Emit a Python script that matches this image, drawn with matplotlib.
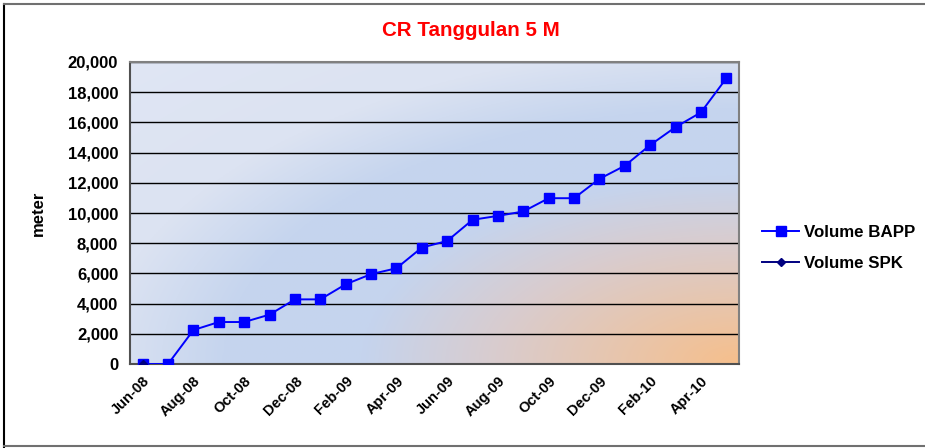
import numpy as np
import matplotlib
matplotlib.use("Agg")
import matplotlib.pyplot as plt
from matplotlib.lines import Line2D
from matplotlib.colors import to_rgb

# ---- data ----
months = ["Jun-08", "Jul-08", "Aug-08", "Sep-08", "Oct-08", "Nov-08", "Dec-08",
          "Jan-09", "Feb-09", "Mar-09", "Apr-09", "May-09", "Jun-09", "Jul-09",
          "Aug-09", "Sep-09", "Oct-09", "Nov-09", "Dec-09", "Jan-10", "Feb-10",
          "Mar-10", "Apr-10", "May-10"]
volume_bapp = [0, 0, 2250, 2780, 2780, 3270, 4280, 4280, 5280, 5950, 6340,
               7710, 8150, 9550, 9810, 10100, 10980, 10980, 12260, 13130,
               14500, 15690, 16660, 18920]
volume_spk = [0]  # only the first month has a value
yticks = list(range(0, 20001, 2000))

plt.rcParams["font.family"] = ["Liberation Sans", "DejaVu Sans"]
plt.rcParams["font.weight"] = "bold"

W, H = 925, 448
fig = plt.figure(figsize=(W / 100, H / 100), dpi=100)
ax = fig.add_axes([130 / W, 1 - 364 / H, (739 - 130) / W, (364 - 62) / H])

# background gradient of the plot area (orange corner bottom-right)
nx, ny = 300, 150
gx, gy = np.meshgrid(np.linspace(0, 1, nx), np.linspace(1, 0, ny))
d = np.sqrt((1 - gx) ** 2 + gy ** 2)
stops = [0.0, 0.4, 0.62, 0.85, 1.05, 1.45]
cols = [to_rgb(c) for c in ["#f6bf8c", "#d9ccce", "#c5d4ee", "#c6d5ee", "#dce3f2", "#e0e6f4"]]
img = np.zeros((ny, nx, 3))
for k in range(3):
    img[..., k] = np.interp(d, stops, [c[k] for c in cols])
ax.imshow(img, extent=[0, 1, 0, 1], transform=ax.transAxes, aspect="auto",
          zorder=0, interpolation="bilinear")

x = np.arange(len(months))
ax.plot(x, volume_bapp, color="#0000ff", lw=1.4, marker="s", ms=7,
        label="Volume BAPP", zorder=3)
ax.plot(x[:len(volume_spk)], volume_spk, color="#000080", lw=1.4, marker="D",
        ms=4.5, label="Volume SPK", zorder=4)

ax.set_xlim(-0.5, len(months) - 0.5)
ax.set_ylim(0, 20000)
ax.set_yticks(yticks)
ax.set_yticklabels([f"{v:,}" for v in yticks], fontsize=12, fontweight="bold")
ax.set_xticks(x[::2])
ax.set_xticklabels(months[::2], rotation=45, ha="right", va="top",
                   rotation_mode="anchor", fontsize=10.5, fontweight="bold")
ax.tick_params(length=0, pad=8.5)
ax.tick_params(axis="x", pad=7)
ax.grid(axis="y", color="black", lw=1)
ax.set_axisbelow(True)
for s in ax.spines.values():
    s.set_color("#808080")
    s.set_linewidth(1.5)
ax.spines["left"].set_color("#505050")
ax.spines["bottom"].set_color("#505050")

ax.set_ylabel("meter", fontsize=12, fontweight="bold", labelpad=16)
fig.text(471 / W, 1 - 30 / H, "CR Tanggulan 5 M", color="red",
         fontsize=14.8, fontweight="bold", ha="center", va="center")

leg = ax.legend(loc="center left", bbox_to_anchor=(1.013, 0.385), frameon=False,
                fontsize=12.2, handlelength=2.2, handletextpad=0.25, labelspacing=0.95)

# outer chart border
fig.add_artist(Line2D([4 / W, 4 / W], [0, 1 - 4 / H], color="black", lw=1.5,
                      transform=fig.transFigure))
fig.add_artist(Line2D([4 / W, 1], [1 - 4 / H, 1 - 4 / H], color="#707070", lw=1.5,
                      transform=fig.transFigure))
fig.add_artist(Line2D([4 / W, 1], [2 / H, 2 / H], color="#707070", lw=1.5,
                      transform=fig.transFigure))

fig.savefig("out.png", dpi=100)
